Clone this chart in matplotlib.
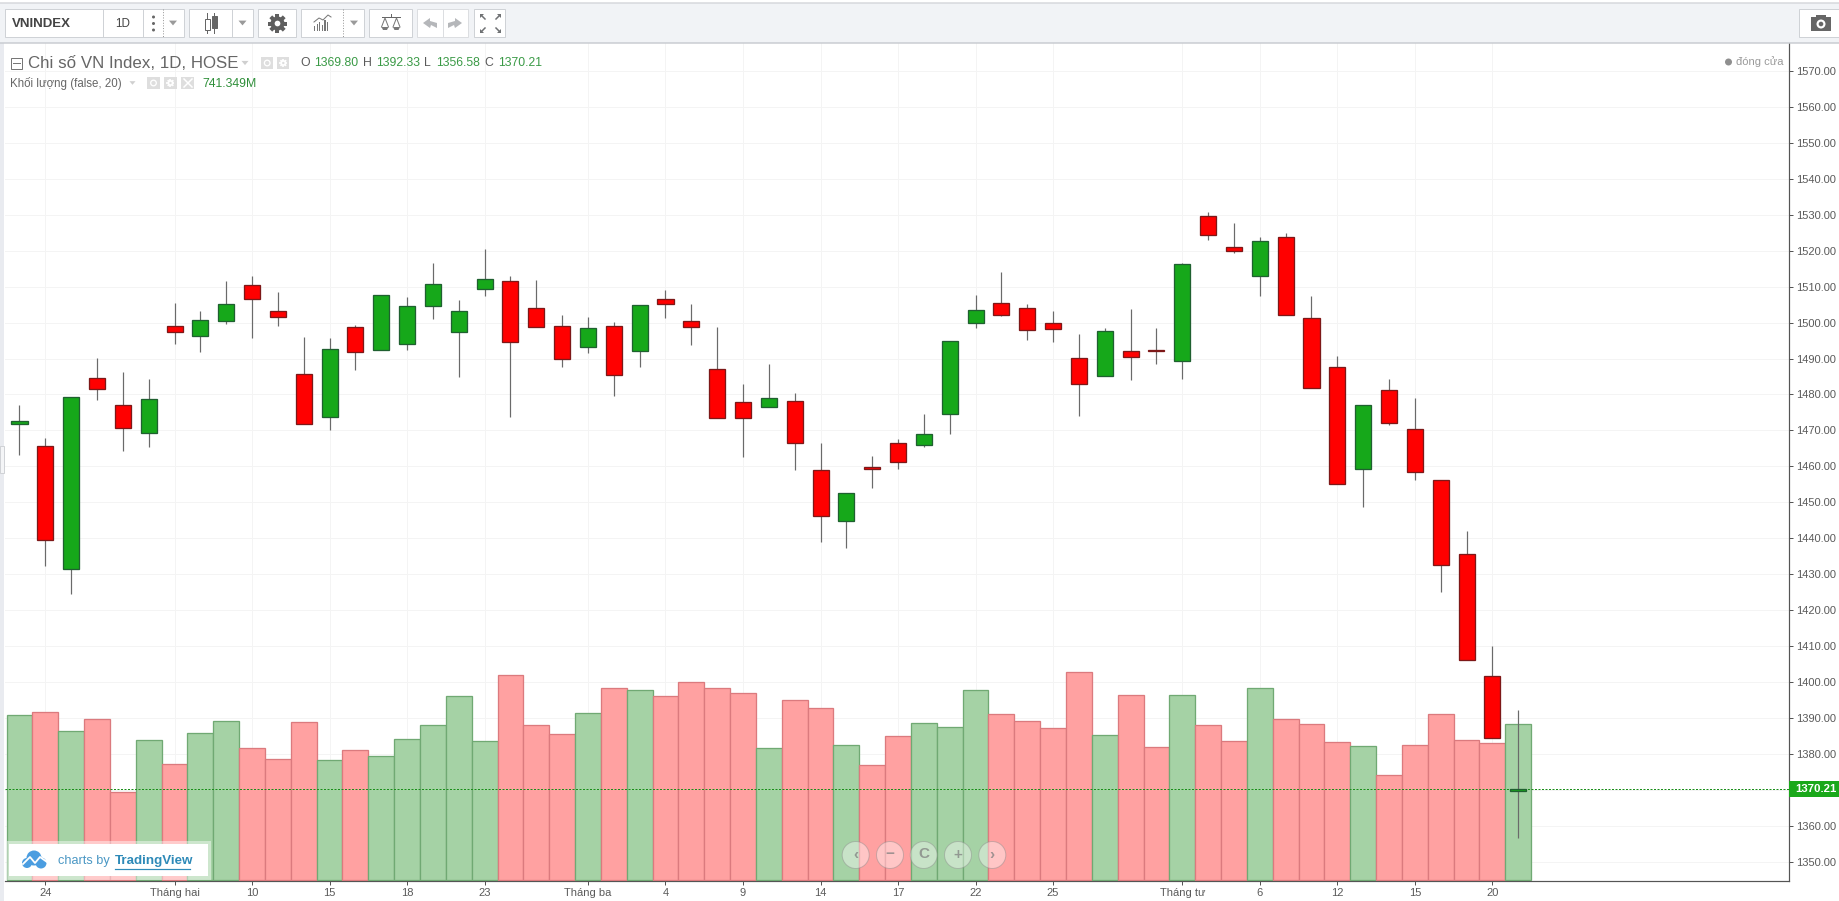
import matplotlib
matplotlib.use("Agg")
import matplotlib.pyplot as plt
import numpy as np
from matplotlib.patches import Circle, Rectangle, Polygon

plt.rcParams['font.family'] = ['Liberation Sans', 'DejaVu Sans']

openPrices = [1471.8, 1465.7, 1431.4, 1484.6, 1477.1, 1469.3, 1499.1, 1496.2, 1500.4, 1510.5,
              1503.3, 1485.7, 1473.7, 1498.8, 1492.3, 1494.0, 1504.6, 1497.3, 1509.3, 1511.6,
              1504.1, 1499.1, 1493.3, 1499.1, 1492.1, 1506.6, 1500.5, 1487.1, 1477.9, 1476.5,
              1478.2, 1459.0, 1444.7, 1459.8, 1466.5, 1465.9, 1474.5, 1499.9, 1505.5, 1504.1,
              1499.9, 1490.2, 1485.2, 1492.1, 1492.4, 1489.3, 1529.7, 1521.1, 1512.9, 1523.9,
              1501.3, 1487.7, 1459.2, 1481.3, 1470.4, 1456.2, 1435.6, 1401.7, 1369.80]
highPrices = [1477.1, 1467.9, 1479.3, 1490.2, 1486.3, 1484.4, 1505.5, 1503.3, 1511.7, 1512.9,
              1508.4, 1495.9, 1495.6, 1499.4, 1507.7, 1507.2, 1516.5, 1506.4, 1520.6, 1513.0,
              1511.9, 1502.2, 1501.6, 1500.2, 1505.0, 1509.2, 1505.3, 1498.9, 1482.8, 1488.6,
              1480.3, 1466.6, 1452.7, 1463.0, 1467.7, 1474.7, 1494.9, 1507.6, 1514.0, 1505.2,
              1503.1, 1496.7, 1498.4, 1503.9, 1498.4, 1516.7, 1530.9, 1527.6, 1523.7, 1524.8,
              1507.5, 1490.6, 1477.1, 1484.2, 1478.9, 1456.2, 1442.1, 1410.0, 1392.33]
lowPrices = [1463.1, 1432.2, 1424.4, 1478.4, 1464.2, 1465.3, 1494.0, 1491.8, 1499.5, 1495.7,
             1499.0, 1471.8, 1470.0, 1486.8, 1492.3, 1492.3, 1501.0, 1484.8, 1507.3, 1473.7,
             1498.7, 1487.6, 1491.5, 1479.5, 1487.6, 1501.4, 1493.9, 1473.4, 1462.7, 1476.5,
             1458.9, 1439.0, 1437.2, 1453.9, 1459.2, 1465.5, 1469.1, 1498.5, 1501.8, 1495.1,
             1494.6, 1473.9, 1485.2, 1484.0, 1488.4, 1484.2, 1522.9, 1519.3, 1507.5, 1502.1,
             1481.7, 1455.0, 1448.6, 1471.6, 1456.3, 1425.1, 1406.0, 1384.5, 1356.58]
closePrices = [1472.6, 1439.5, 1479.3, 1481.5, 1470.6, 1478.8, 1497.3, 1500.8, 1505.2, 1506.5,
               1501.5, 1471.8, 1492.7, 1491.8, 1507.7, 1504.7, 1510.8, 1503.3, 1512.2, 1494.6,
               1498.7, 1489.9, 1498.6, 1485.4, 1505.0, 1505.1, 1498.7, 1473.4, 1473.4, 1479.0,
               1466.4, 1446.1, 1452.6, 1459.2, 1461.1, 1469.0, 1494.9, 1503.6, 1502.1, 1497.9,
               1498.2, 1482.9, 1497.7, 1490.4, 1492.1, 1516.4, 1524.3, 1519.9, 1522.8, 1502.1,
               1481.7, 1455.0, 1477.1, 1472.0, 1458.4, 1432.5, 1406.0, 1384.5, 1370.21]
volumes = [784, 798, 708, 765, 418, 665, 551, 698, 756, 627,
           575, 751, 570, 617, 589, 670, 737, 875, 660, 975,
           737, 694, 794, 913, 903, 875, 941, 913, 889, 627,
           856, 817, 641, 546, 684, 746, 727, 903, 789, 756,
           722, 989, 689, 879, 632, 879, 737, 660, 913, 765,
           741, 656, 637, 498, 641, 789, 665, 651, 741.349]

xTickPos = [1, 6, 9, 12, 15, 18, 22, 25, 28, 31, 34, 37, 40, 45, 48, 51, 54, 57]
xTickLabels = ["24", "Tháng hai", "10", "15", "18", "23", "Tháng ba", "4", "9", "14", "17",
               "22", "25", "Tháng tư", "6", "12", "15", "20"]
yTicks = list(range(1350, 1580, 10))

redBody = "#ff0000"
greenBody = "#16a81a"
redEdge = "#7d1818"
greenEdge = "#1f6030"
redVol = "#ffa1a1"
greenVol = "#a5d2a5"
redVolEdge = "#db7a7e"
greenVolEdge = "#70a973"
axisColor = "#555555"
textColor = "#5a5a5a"
numColor = "#3a9a46"
px = 0.72  # one pixel in points at dpi 100

W, H = 1840.0, 901.0
left, right, top, bottom = 5.0, 1789.0, 43.0, 881.0

fig = plt.figure(figsize=(18.4, 9.01), dpi=100, facecolor="white")
rect = [left / W, 1 - bottom / H, (right - left) / W, (bottom - top) / H]

xs = np.arange(len(closePrices))
isUp = np.array(closePrices) >= np.array(openPrices)
xLim = ((left - 19.5) / 25.84, (right - 19.5) / 25.84)
priceLim = (1350 - (bottom - 861.7) / 3.594, 1350 + (861.7 - top) / 3.594)
volPerPx = 741.349 / 155.7

# base axes: grid, ticks, spines
ax = fig.add_axes(rect)
ax.set_xlim(xLim)
ax.set_ylim(priceLim)
ax.set_xticks(xTickPos)
ax.set_xticklabels(xTickLabels)
ax.set_yticks(yTicks)
ax.set_yticklabels(["%.2f" % v for v in yTicks])
ax.grid(True, color="#f4f4f4", lw=1 * px)
ax.set_axisbelow(True)
ax.tick_params(axis="both", length=4 * px, width=1 * px, color=axisColor, labelcolor=textColor,
               labelsize=8, pad=2)
for name in ["top", "left"]:
    ax.spines[name].set_visible(False)
for name in ["right", "bottom"]:
    ax.spines[name].set_color(axisColor)
    ax.spines[name].set_linewidth(1.2 * px)

# volume
axVol = ax.twinx()
axVol.set_ylim(-1 * volPerPx, (bottom - 1 - top) * volPerPx)
axVol.bar(xs, volumes, width=1.0,
          color=[greenVol if u else redVol for u in isUp],
          edgecolor=[greenVolEdge if u else redVolEdge for u in isUp], linewidth=1.3 * px)
axVol.axis("off")

# candles
axC = ax.twinx()
axC.set_ylim(priceLim)
axC.axis("off")
axC.axhline(closePrices[-1], color="#1a8f1a", lw=1 * px, ls=(0, (2, 1.5)), zorder=2)
axC.vlines(xs, lowPrices, highPrices, color="#6a6a6a", lw=1.2 * px, zorder=3)
bodyBottom = np.minimum(openPrices, closePrices)
bodyHeight = np.abs(np.array(closePrices) - np.array(openPrices))
axC.bar(xs, bodyHeight, bottom=bodyBottom, width=0.62,
        color=[greenBody if u else redBody for u in isUp],
        edgecolor=[greenEdge if u else redEdge for u in isUp], linewidth=1.3 * px, zorder=4)

# twinx puts the host's labels back on the left
ax.yaxis.tick_right()
ax.tick_params(axis="y", length=4 * px, width=1 * px, color=axisColor, labelcolor=textColor,
               labelsize=8, pad=2)

# everything around the chart, in pixel coordinates
ui = fig.add_axes([0, 0, 1, 1], zorder=10)
ui.set_xlim(0, W)
ui.set_ylim(H, 0)
ui.axis("off")
ui.patch.set_alpha(0)


def box(x0, y0, x1, y1, fc="white", ec="#cfd2d6", lw=1.0, z=2, alpha=None):
    ui.add_patch(Rectangle((x0, y0), x1 - x0, y1 - y0, fc=fc, ec=ec, lw=lw * px, zorder=z, alpha=alpha))


def sep(x, y0=9, y1=37, ls="-", c="#cfd2d6"):
    ui.plot([x, x], [y0, y1], color=c, lw=1 * px, ls=ls, zorder=3)


def tri(x, y, s=4, c="#9a9a9a", z=3):
    ui.add_patch(Polygon([(x - s, y - s * 0.6), (x + s, y - s * 0.6), (x, y + s * 0.6)], fc=c, ec="none", zorder=z))


def gear(x, y, r, c="#5f5f5f", hole="white", z=3):
    for ang in [0, 45, 90, 135]:
        dx, dy = r * np.cos(np.radians(ang)), r * np.sin(np.radians(ang))
        ui.plot([x - dx, x + dx], [y - dy, y + dy], color=c, lw=r * 0.42 * px, zorder=z, solid_capstyle="butt")
    ui.add_patch(Circle((x, y), r * 0.74, fc=c, ec="none", zorder=z))
    ui.add_patch(Circle((x, y), r * 0.3, fc=hole, ec="none", zorder=z + 1))


# toolbar strip and left edge
box(0, 3, W, 43, fc="#f1f3f6", ec="none", z=1)
ui.plot([0, W], [3, 3], color="#d6d8dc", lw=1.5 * px, zorder=2)
ui.plot([0, W], [43, 43], color="#c9ccd1", lw=1.5 * px, zorder=2)
box(0, 43, 4.5, H, fc="#e9ebf0", ec="none", z=1)
box(0, 446, 4, 473, fc="#f4f5f7", ec="#d0d2d6", z=2)

box(5, 9, 184, 37)
sep(103)
sep(143)
sep(163, ls=":", c="#999999")
ui.text(12, 24, "VNINDEX", fontsize=9.5, fontweight="bold", color="#444444", va="center")
ui.text(123, 24, "1D", fontsize=8.4, color="#444444", va="center", ha="center")
for yy in [17, 23.5, 30]:
    ui.add_patch(Circle((153.5, yy), 1.5, fc="#666666", ec="none", zorder=3))
tri(173, 23)

box(189, 9, 253, 37)
sep(232)
ui.plot([207.5, 207.5], [13, 33], color="#666666", lw=1 * px, zorder=3)
ui.plot([214.5, 214.5], [13, 33], color="#666666", lw=1 * px, zorder=3)
box(205, 19, 210, 30, fc="white", ec="#666666", z=4)
box(212, 16, 217, 28, fc="#666666", ec="#666666", z=4)
tri(242.5, 23)

box(258, 9, 296.5, 37)
gear(277.5, 23.5, 9.5)

box(301.5, 9, 364, 37)
sep(343, ls=":", c="#999999")
for i, hh in enumerate([5, 7, 9, 6, 11, 9]):
    box(314 + i * 2.6, 31 - hh, 315.2 + i * 2.6, 31, fc="#777777", ec="none", z=3)
ui.plot([314, 319, 323, 328, 331], [22, 18, 20, 15, 17], color="#777777", lw=1 * px, zorder=3)
tri(354, 23)

box(369, 9, 412, 37)
ui.plot([382, 400], [17, 17], color="#666666", lw=1 * px, zorder=3)
ui.plot([391, 391], [14, 17], color="#666666", lw=1 * px, zorder=3)
for cx in [385, 396.5]:
    ui.plot([cx - 3.5, cx, cx + 3.5], [27, 18, 27], color="#777777", lw=1 * px, zorder=3)
    ui.add_patch(Polygon([(cx - 3.5, 27), (cx + 3.5, 27), (cx + 2, 30), (cx - 2, 30)], fc="#777777", ec="none", zorder=3))

box(417, 9, 468, 37, ec="#dcdee1")
sep(443, c="#dcdee1")
ui.add_patch(Polygon([(423, 23), (430, 18), (430, 21), (437, 23), (437, 28), (431, 25), (430, 28)], fc="#b5b7ba", ec="none", zorder=3))
ui.add_patch(Polygon([(462, 23), (455, 18), (455, 21), (448, 23), (448, 28), (454, 25), (455, 28)], fc="#b5b7ba", ec="none", zorder=3))

box(474, 9, 505.5, 37)
for cx, cy, sx, sy in [(484, 18, -1, -1), (497, 18, 1, -1), (484, 29, -1, 1), (497, 29, 1, 1)]:
    ui.add_patch(Polygon([(cx + sx * 4, cy + sy * 4), (cx, cy + sy * 4), (cx + sx * 4, cy)], fc="#6f7173", ec="none", zorder=3))
    ui.plot([cx - sx * 1, cx + sx * 2], [cy - sy * 1, cy + sy * 2], color="#6f7173", lw=1.5 * px, zorder=3)

box(1799, 9, 1841, 37)
ui.add_patch(Rectangle((1811, 17), 20, 14, fc="#666666", ec="none", zorder=3))
box(1816, 15, 1826, 18, fc="#666666", ec="none", z=3)
ui.add_patch(Circle((1821, 24), 4.5, fc="white", ec="none", zorder=4))
ui.add_patch(Circle((1821, 24), 2.3, fc="#666666", ec="none", zorder=5))

# legend rows
box(11, 57.5, 22.5, 69, fc="white", ec="#777777", z=3)
ui.plot([13.5, 20], [63.3, 63.3], color="#777777", lw=1 * px, zorder=4)
ui.text(28.5, 63, "Chi số VN Index, 1D, HOSE", fontsize=12.2, color="#666666", va="center")
tri(245, 63, s=3.5, c="#cfcfcf")
for x0 in [261, 277]:
    box(x0, 57, x0 + 12.5, 69, fc="#dedede", ec="none", z=3)
ui.add_patch(Circle((267.2, 63), 2.8, fc="none", ec="white", lw=1.3 * px, zorder=4))
gear(283.3, 63, 4, c="white", hole="#dedede", z=4)

rowY = 63
ui.text(300, rowY, "O", fontsize=8.8, color=textColor, va="center")
ui.text(314, rowY, "1369.80", fontsize=8.8, color=numColor, va="center")
ui.text(363, rowY, "H", fontsize=8.8, color=textColor, va="center")
ui.text(376, rowY, "1392.33", fontsize=8.8, color=numColor, va="center")
ui.text(424, rowY, "L", fontsize=8.8, color=textColor, va="center")
ui.text(436, rowY, "1356.58", fontsize=8.8, color=numColor, va="center")
ui.text(484, rowY, "C", fontsize=8.8, color=textColor, va="center")
ui.text(498, rowY, "1370.21", fontsize=8.8, color=numColor, va="center")

ui.text(10.5, 83, "Khối lượng (false, 20)", fontsize=8.3, color="#666666", va="center")
tri(132.5, 83, s=3, c="#cfcfcf")
for x0 in [147, 164, 181]:
    box(x0, 77, x0 + 13, 89, fc="#dedede", ec="none", z=3)
ui.add_patch(Circle((153.5, 83), 2.8, fc="none", ec="white", lw=1.3 * px, zorder=4))
gear(170.5, 83, 4, c="white", hole="#dedede", z=4)
ui.plot([184, 192], [79, 87], color="white", lw=1.5 * px, zorder=4)
ui.plot([184, 192], [87, 79], color="white", lw=1.5 * px, zorder=4)
ui.text(202.5, 84, "741.349M", fontsize=8.8, color="#2f8f3a", va="center")

ui.add_patch(Circle((1728.5, 62), 3.5, fc="#8f8f8f", ec="none", zorder=3))
ui.text(1736.5, 61.5, "đóng cửa", fontsize=8, color="#9a9a9a", va="center")

# last price label
box(1789, 780.5, 1841, 796.5, fc="#1aa81a", ec="none", z=5)
ui.text(1795, 788.5, "%.2f" % closePrices[-1], fontsize=8.2, fontweight="bold", color="white", va="center", zorder=6)

# TradingView badge
box(7, 841, 211, 880, fc="white", ec="none", z=3, alpha=0.45)
box(9, 844, 208, 876, fc="white", ec="none", z=4)
for cx, cy, r in [(34, 858, 7.5), (27, 863, 5), (41, 863, 5.5)]:
    ui.add_patch(Circle((cx, cy), r, fc="#4b9de0", ec="none", zorder=5))
ui.plot([23, 30, 35, 40, 47], [864, 857, 863, 857, 862], color="white", lw=1.8 * px, zorder=6)
ui.text(58, 861, "charts by", fontsize=9.2, color="#4a97c4", va="center", zorder=5)
ui.text(115, 861, "TradingView", fontsize=9.6, fontweight="bold", color="#2e8ab8", va="center", zorder=5)
ui.plot([115, 190.5], [868.5, 868.5], color="#2e8ab8", lw=1.2 * px, zorder=5)

# zoom buttons
for cx, label in zip([855.7, 890, 923.7, 958, 992.3], ["‹", "−", "C", "+", "›"]):
    ui.add_patch(Circle((cx, 855), 13.5, fc=(1, 1, 1, 0.4), ec=(0.55, 0.55, 0.55, 0.45), lw=1 * px, zorder=6))
    ui.text(cx, 854.5, label, fontsize=11, fontweight="bold", color=(0.5, 0.5, 0.5, 0.75),
            ha="center", va="center", zorder=7)

fig.savefig("out.png", dpi=100, facecolor="white")
